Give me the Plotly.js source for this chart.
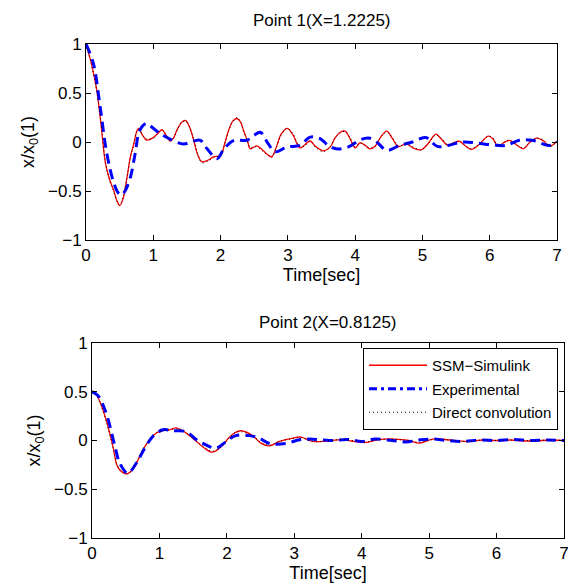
<!DOCTYPE html>
<html>
<head>
<meta charset="utf-8">
<script src="https://cdn.plot.ly/plotly-3.0.1.min.js"></script>
<style>html,body{margin:0;padding:0;background:#fff;}#chart{width:568px;height:583px;}</style>
</head>
<body>
<div id="chart"></div>
<script>
// ---------- Point 1 (X=1.2225) ----------
const p1SsmT = [0,0.08,0.16,0.22,0.29,0.35,0.41,0.46,0.5,0.55,0.61,0.66,0.71,0.75,0.78,0.84,0.9,1.0,1.07,1.13,1.19,1.25,1.3,1.35,1.42,1.48,1.54,1.6,1.66,1.72,1.8,1.9,2.0,2.06,2.12,2.18,2.24,2.3,2.34,2.4,2.44,2.5,2.54,2.62,2.7,2.76,2.83,2.9,2.99,3.07,3.18,3.25,3.33,3.42,3.53,3.63,3.7,3.78,3.85,3.92,4.0,4.07,4.14,4.22,4.3,4.38,4.47,4.55,4.64,4.76,4.86,4.98,5.08,5.2,5.28,5.38,5.46,5.55,5.64,5.73,5.85,5.98,6.05,6.12,6.2,6.29,6.4,6.5,6.6,6.7,6.8,6.89,7.0];
const p1SsmV = [1,0.8,0.53,0.2,-0.22,-0.38,-0.49,-0.6,-0.65,-0.58,-0.36,-0.15,-0.02,0.1,0.14,0.07,0.02,0.045,0.09,0.125,0.07,0.01,0.04,0.12,0.2,0.22,0.15,0.02,-0.13,-0.2,-0.19,-0.15,-0.14,-0.02,0.12,0.21,0.24,0.2,0.12,0.01,-0.07,-0.05,-0.04,-0.08,-0.13,-0.15,-0.05,0.08,0.14,0.08,-0.06,-0.03,0.01,-0.05,-0.09,-0.05,0.04,0.1,0.11,0.04,-0.06,-0.01,-0.03,-0.07,-0.04,0.05,0.11,0.04,-0.045,-0.02,-0.06,-0.08,-0.02,0.08,0.03,-0.035,-0.01,0.007,-0.04,-0.075,-0.02,0.06,0.03,-0.045,-0.01,0.017,-0.03,-0.07,0.0,0.04,0.01,-0.045,0.007];
const p1ConvV = [1,0.79,0.52,0.21,-0.21,-0.39,-0.5,-0.61,-0.64,-0.57,-0.35,-0.16,-0.03,0.1,0.13,0.07,0.03,0.04,0.09,0.12,0.07,0.02,0.04,0.11,0.2,0.21,0.15,0.03,-0.12,-0.21,-0.2,-0.16,-0.13,-0.02,0.11,0.21,0.25,0.2,0.11,0.01,-0.06,-0.05,-0.05,-0.09,-0.13,-0.16,-0.05,0.07,0.14,0.09,-0.05,-0.04,0.01,-0.06,-0.1,-0.05,0.04,0.09,0.11,0.05,-0.05,-0.01,-0.03,-0.06,-0.04,0.05,0.1,0.05,-0.04,-0.02,-0.05,-0.08,-0.02,0.07,0.04,-0.03,-0.01,0.01,-0.04,-0.07,-0.02,0.06,0.04,-0.04,-0.01,0.02,-0.03,-0.06,0.0,0.04,0.02,-0.04,0.01];
const p1ExpT = [0,0.11,0.21,0.31,0.41,0.48,0.53,0.58,0.66,0.73,0.8,0.9,1.0,1.1,1.25,1.45,1.6,1.7,1.8,1.95,2.05,2.2,2.39,2.5,2.59,2.71,2.81,2.99,3.18,3.33,3.48,3.6,3.72,3.9,4.07,4.2,4.32,4.47,4.66,4.85,5.05,5.22,5.38,5.6,5.8,6.05,6.24,6.44,6.63,6.89,7.0];
const p1ExpV = [1,0.8,0.36,-0.12,-0.41,-0.52,-0.54,-0.5,-0.36,-0.12,0.12,0.19,0.14,0.085,0.03,-0.02,0.01,0.017,-0.07,-0.17,-0.07,0.017,0.017,0.07,0.1,-0.02,-0.1,-0.05,-0.035,0.05,0.035,-0.035,-0.07,-0.05,0.02,0.04,0.0,-0.085,-0.035,0.0,0.045,-0.045,-0.035,0.0,-0.01,-0.03,-0.035,0.017,0.017,-0.035,0.0];

// ---------- Point 2 (X=0.8125) ----------
const p2SsmT = [0,0.05,0.11,0.21,0.31,0.38,0.46,0.53,0.6,0.66,0.8,0.95,1.05,1.15,1.25,1.32,1.4,1.55,1.67,1.78,1.89,2.04,2.12,2.21,2.38,2.51,2.63,2.78,2.98,3.1,3.27,3.52,3.7,3.85,4.07,4.25,4.5,4.7,4.86,5.05,5.3,5.55,5.8,6.0,6.2,6.5,6.8,7.0];
const p2SsmV = [0.5,0.49,0.41,0.21,-0.06,-0.27,-0.33,-0.34,-0.3,-0.23,-0.045,0.075,0.1,0.11,0.13,0.11,0.075,-0.01,-0.08,-0.12,-0.08,0.035,0.08,0.1,0.05,-0.03,-0.055,-0.01,0.025,0.035,-0.01,-0.003,0.01,-0.005,-0.02,0.01,0.015,0.0,-0.027,0.015,0.005,-0.01,0.005,0.0,0.005,-0.005,0.005,0.0];
const p2ConvV = [0.5,0.48,0.4,0.2,-0.07,-0.26,-0.33,-0.34,-0.29,-0.22,-0.04,0.08,0.1,0.11,0.12,0.11,0.08,-0.01,-0.07,-0.11,-0.08,0.03,0.08,0.09,0.05,-0.02,-0.05,-0.01,0.02,0.03,-0.01,0.0,0.01,0.0,-0.015,0.01,0.01,0.0,-0.02,0.01,0.005,-0.01,0.005,0.0,0.005,0.0,0.005,0.0];
const p2ExpT = [0,0.09,0.21,0.34,0.41,0.53,0.66,0.78,0.9,1.05,1.2,1.4,1.55,1.69,1.84,1.99,2.13,2.33,2.48,2.63,2.88,3.08,3.27,3.52,3.8,4.0,4.2,4.45,4.65,4.85,5.05,5.25,5.5,5.75,6.0,6.25,6.5,6.75,7.0];
const p2ExpV = [0.5,0.46,0.28,-0.06,-0.23,-0.335,-0.23,-0.08,0.04,0.11,0.1,0.09,0.007,-0.045,-0.08,-0.01,0.05,0.05,0.025,-0.03,-0.03,0.007,0.014,0.0,0.01,-0.01,0.015,0.0,-0.015,0.005,0.015,0.0,-0.01,0.005,0.0,0.01,0.0,0.005,0.0];

const xTicks = [0,1,2,3,4,5,6,7];
const yTicks = [-1,-0.5,0,0.5,1];
const yTickText = ['\u22121','\u22120.5','0','0.5','1'];
const seriesNames = ['SSM\u2212Simulink','Experimental','Direct convolution'];

const FONT = 'Liberation Sans, Arial, Helvetica, sans-serif';
const redLine = {color:'#ff0000', width:1.3, shape:'spline'};
const blueLine = {color:'#0000ff', width:3, dash:'10px,6px', shape:'spline'};
const convLine = {color:'#000000', width:1, dash:'1px,3px', shape:'spline'};

const traces = [
  {x:p1SsmT, y:p1SsmV, xaxis:'x', yaxis:'y', mode:'lines', line:redLine, showlegend:false, name:seriesNames[0]},
  {x:p1ExpT, y:p1ExpV, xaxis:'x', yaxis:'y', mode:'lines', line:blueLine, showlegend:false, name:seriesNames[1]},
  {x:p1SsmT, y:p1ConvV, xaxis:'x', yaxis:'y', mode:'lines', line:convLine, showlegend:false, name:seriesNames[2]},
  {x:p2SsmT, y:p2SsmV, xaxis:'x2', yaxis:'y2', mode:'lines', line:redLine, name:seriesNames[0], legendgroup:'a'},
  {x:p2ExpT, y:p2ExpV, xaxis:'x2', yaxis:'y2', mode:'lines', line:blueLine, showlegend:false, name:seriesNames[1]},
  {x:[null], y:[null], xaxis:'x2', yaxis:'y2', mode:'lines', line:{color:'#0000ff', width:3, dash:'8px,4px,3px,4px'}, name:seriesNames[1], legendgroup:'b'},
  {x:p2SsmT, y:p2ConvV, xaxis:'x2', yaxis:'y2', mode:'lines', line:convLine, name:seriesNames[2], legendgroup:'c'}
];

function xax(domain, anchor){
  return {domain:domain, anchor:anchor, range:[0,7], tickvals:xTicks, ticks:'inside', ticklen:5, tickcolor:'#000',
    showline:true, linecolor:'#000', linewidth:1, mirror:'ticks', showgrid:false, zeroline:false,
    ticklabeloverflow:'allow',
    tickfont:{family:FONT, size:17, color:'#000'},
    title:{text:'Time[sec]', font:{family:FONT, size:18, color:'#000'}, standoff:0}};
}
function yax(domain, anchor){
  return {domain:domain, anchor:anchor, range:[-1,1], tickvals:yTicks, ticktext:yTickText, ticks:'inside', ticklen:5, tickcolor:'#000',
    showline:true, linecolor:'#000', linewidth:1, mirror:'ticks', showgrid:false, zeroline:false,
    ticklabeloverflow:'allow',
    tickfont:{family:FONT, size:17, color:'#000'},
    title:{text:'x/x<sub>0</sub>(1)', font:{family:FONT, size:18, color:'#000'}, standoff:8}};
}

const layout = {
  width:568, height:583, margin:{l:0,r:0,t:0,b:0}, paper_bgcolor:'#fff', plot_bgcolor:'#fff',
  xaxis:xax([86/568, 557/568], 'y'),
  yaxis:yax([(583-240)/583, (583-44)/583], 'x'),
  xaxis2:xax([92/568, 564/568], 'y2'),
  yaxis2:yax([(583-538)/583, (583-343)/583], 'x2'),
  showlegend:true,
  legend:{x:558/568, xanchor:'right', y:(583-348)/583, yanchor:'top', bgcolor:'#fff', bordercolor:'#000', borderwidth:1,
    font:{family:FONT, size:15, color:'#000'}, traceorder:'grouped', tracegroupgap:1, itemwidth:58},
  annotations:[
    {text:'Point 1(X=1.2225)', xref:'paper', yref:'paper', x:321.5/568, y:(583-20)/583, xanchor:'center', yanchor:'middle', showarrow:false, font:{family:FONT, size:17, color:'#000'}},
    {text:'Point 2(X=0.8125)', xref:'paper', yref:'paper', x:328/568, y:(583-322)/583, xanchor:'center', yanchor:'middle', showarrow:false, font:{family:FONT, size:17, color:'#000'}}
  ]
};

Plotly.newPlot('chart', traces, layout, {displayModeBar:false, staticPlot:true});
</script>
</body>
</html>
